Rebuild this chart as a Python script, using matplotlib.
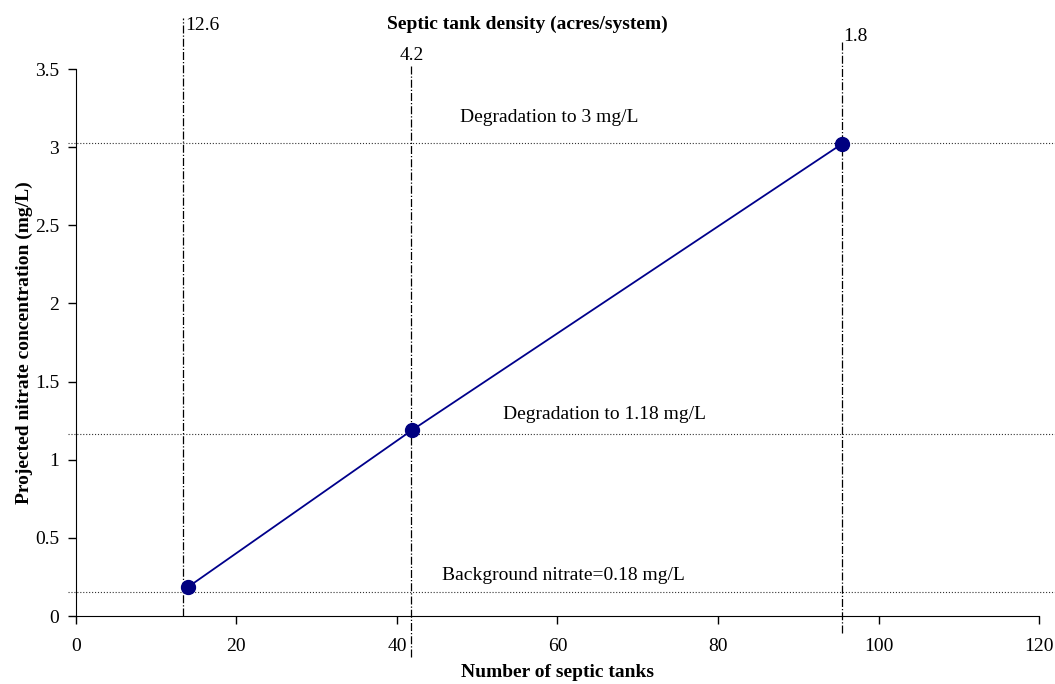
import matplotlib
matplotlib.use('Agg')
import matplotlib.pyplot as plt
from matplotlib.ticker import FuncFormatter

# data
tanks = [14.0, 41.9, 95.4]
nitrate = [0.186, 1.19, 3.02]

density_pos = [13.4, 41.8, 95.4]
density_labels = ['12.6', '4.2', '1.8']

level_y = [0.152, 1.165, 3.025]
level_labels = ['Background nitrate=0.18 mg/L', 'Degradation to 1.18 mg/L', 'Degradation to 3 mg/L']

plt.rcParams['font.family'] = ['Liberation Serif', 'DejaVu Serif']

fig = plt.figure(figsize=(10.55, 6.84), dpi=100)
ax = fig.add_axes([0.0718, 0.0994, 0.9132, 0.7996])

ax.set_xlim(0, 120)
ax.set_ylim(0, 3.5)

# horizontal reference levels
for y in level_y:
    ax.plot([-1, 122.2], [y, y], ls=':', color='#333333', lw=0.8, clip_on=False, zorder=1)

# vertical density lines (tops / bottoms differ per line)
v_top = [3.83, 3.52, 3.685]
v_bot = [0.0, -0.26, -0.11]
lab_y = [3.78, 3.59, 3.71]
for x, t, b, ly, lab in zip(density_pos, v_top, v_bot, lab_y, density_labels):
    ax.plot([x, x], [b, t], ls='-.', color='black', lw=0.9, clip_on=False, zorder=1)
    ha = 'center' if lab == '4.2' else 'left'
    xx = x + 0.2 if ha == 'left' else x
    ax.text(xx, ly, lab, fontsize=14, ha=ha, va='center', clip_on=False)

ax.plot(tanks, nitrate, color='#00008B', lw=1.3, marker='o', markersize=10,
        markerfacecolor='#000080', markeredgecolor='#000080', zorder=3)

ax.text(59.0, 3.19, level_labels[2], fontsize=14, ha='center', va='center')
ax.text(65.8, 1.29, level_labels[1], fontsize=14, ha='center', va='center')
ax.text(60.7, 0.26, level_labels[0], fontsize=14, ha='center', va='center')

ax.set_xticks(range(0, 121, 20))
ax.set_yticks([0, 0.5, 1, 1.5, 2, 2.5, 3, 3.5])
ax.yaxis.set_major_formatter(FuncFormatter(lambda v, p: f'{v:g}'))
ax.tick_params(labelsize=14, direction='out', length=6, width=1)
ax.tick_params(axis='x', pad=10)
ax.tick_params(axis='y', pad=6)
for s in ['top', 'right']:
    ax.spines[s].set_visible(False)

ax.set_xlabel('Number of septic tanks', fontsize=14, fontweight='bold', labelpad=6)
ax.set_ylabel('Projected nitrate concentration (mg/L)', fontsize=14, fontweight='bold', labelpad=1)
fig.text(0.5, 0.965, 'Septic tank density (acres/system)', fontsize=14, fontweight='bold',
         ha='center', va='center')

fig.savefig('out.png', dpi=100)
